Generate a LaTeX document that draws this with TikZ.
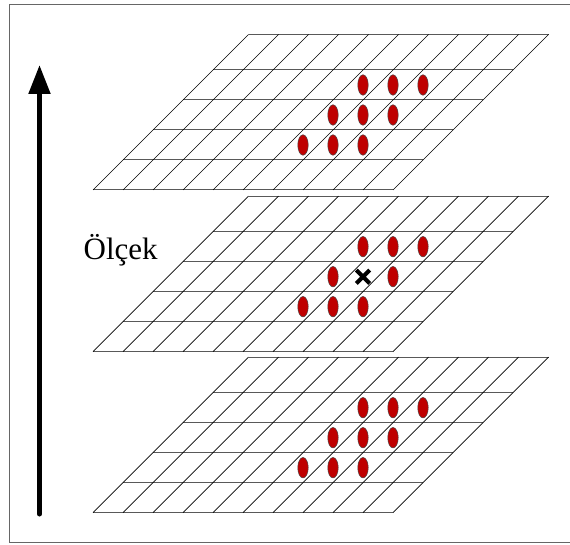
\documentclass[tikz,border=0pt]{standalone}
\usepackage{fontspec}
\setmainfont{Liberation Serif}
\usetikzlibrary{shapes.geometric,arrows.meta}
\tikzstyle{hline}=[line width=1pt, black!65]
\tikzstyle{sline}=[line width=0.7pt, black]
\tikzstyle{blob}=[ellipse, draw=black!70, line width=0.5pt, fill=red!75!black, minimum width=10.5pt, minimum height=20.5pt, inner sep=0pt]
\tikzstyle{xmark}=[minimum width=13pt, minimum height=13pt, inner sep=0pt]

\begin{document}
\begin{tikzpicture}[x=1pt, y=-1pt]
\useasboundingbox (0,0) rectangle (570,545);
% Frame
    \draw[line width=1pt, black!60] (572,4.7) -- (9,4.7) -- (9,542) -- (572,542);
% Layers
    \foreach \b/\n in {190/top, 351.7/mid, 512.7/bot} {
        \foreach \h in {0,30,60,90,120,155.5}
            \draw[hline] (93+\h,\b-\h) -- (393+\h,\b-\h);
        \foreach \i in {0,...,10}
            \draw[sline] (93+30*\i,\b) -- (248.5+30*\i,\b-155.5);
        \foreach \c in {5,6,7}
            \foreach \r in {1,2,3}
                \coordinate (\n-\c-\r) at (108+30*\c+30*\r+15,\b-30*\r-15);
    }
% Samples
    \foreach \c in {5,6,7}
        \foreach \r in {1,2,3} {
            \node[blob] (s-top-\c-\r) at (top-\c-\r) {};
            \node[blob] (s-bot-\c-\r) at (bot-\c-\r) {};
        }
    \foreach \c/\r in {5/1,6/1,7/1,5/2,7/2,5/3,6/3,7/3}
        \node[blob] (s-mid-\c-\r) at (mid-\c-\r) {};
    \node[xmark] (x) at (mid-6-2) {};
    \draw[line width=4pt] (x.north west) -- (x.south east)
                          (x.south west) -- (x.north east);
% Scale axis
    \coordinate (low) at (39.5,514);
    \coordinate (high) at (39.5,65);
    \draw[line width=5pt, line cap=round, -{Triangle[length=29pt,width=21pt]}] (low) -- (high);
    \node[anchor=base west, inner sep=0pt, font=\fontsize{31}{36}\selectfont] (label) at (83.5,259.3) {Ölçek};
\end{tikzpicture}
\end{document}
